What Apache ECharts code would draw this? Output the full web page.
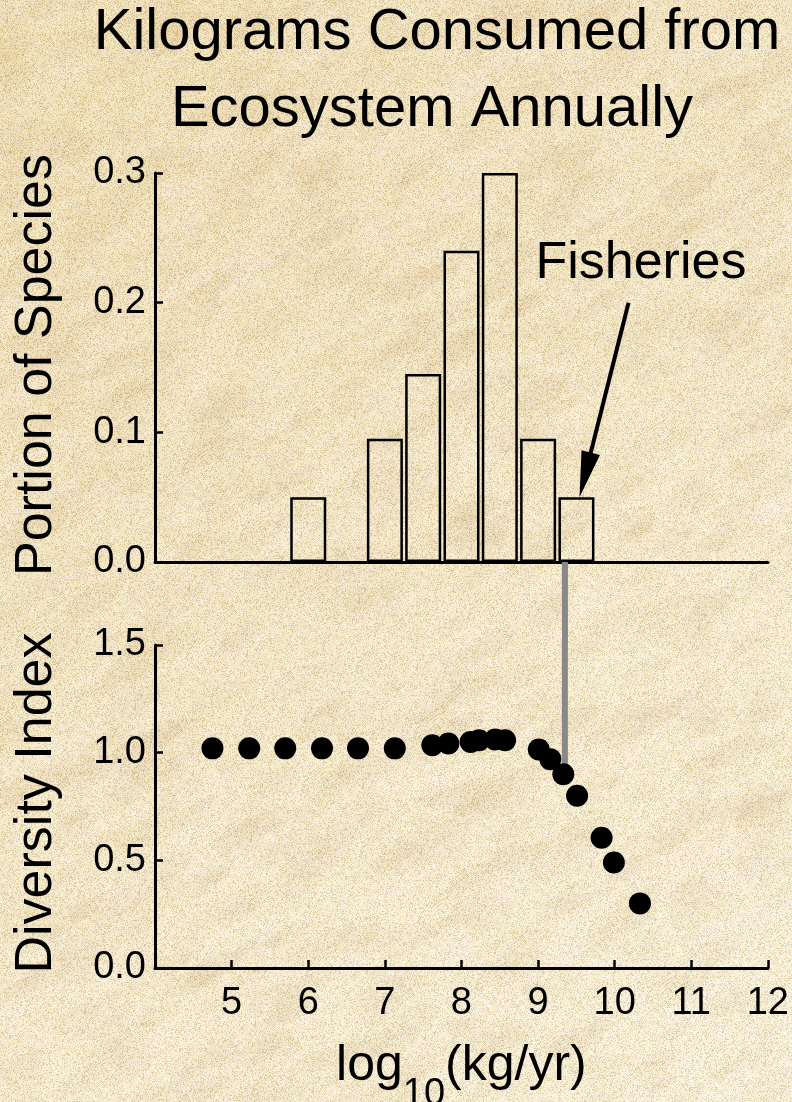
<!DOCTYPE html>
<html>
<head>
<meta charset="utf-8">
<script src="https://cdn.jsdelivr.net/npm/echarts@6/dist/echarts.min.js"></script>
<style>
  html, body { margin: 0; padding: 0; }
  body { width: 792px; height: 1102px; overflow: hidden; background: #f2e7c8; }
  #chart { width: 792px; height: 1102px; }
</style>
</head>
<body>
<div id="chart"></div>
<script>
// Histogram: share of species by annual consumption (log10 kg/yr bin centres)
const binCentres = [6, 7, 7.5, 8, 8.5, 9, 9.5];
const portionOfSpecies = [0.05, 0.095, 0.145, 0.24, 0.30, 0.095, 0.05];

// Diversity index against annual consumption (log10 kg/yr)
const consumptionLog = [4.75, 5.23, 5.70, 6.18, 6.65, 7.13, 7.62, 7.83, 8.12, 8.23, 8.44, 8.57, 9.01, 9.16, 9.33, 9.51, 9.83, 9.99, 10.33];
const diversityIndex = [1.02, 1.02, 1.02, 1.02, 1.02, 1.02, 1.035, 1.043, 1.05, 1.058, 1.061, 1.058, 1.015, 0.97, 0.90, 0.80, 0.605, 0.49, 0.30];

// Fisheries consumption level and the point it marks
const fisheriesLog = 9.35;
const fisheriesDiversity = 0.90;
const fisheriesPortion = 0.05;

const xTicks = [5, 6, 7, 8, 9, 10, 11, 12];
const portionTicks = [0.0, 0.1, 0.2, 0.3];
const diversityTicks = [0.0, 0.5, 1.0, 1.5];

// Parchment texture for the page background (seeded, so it is stable)
(function paintParchment() {
  const W = 792, H = 1102;
  const c = document.createElement('canvas');
  c.width = W; c.height = H;
  const g = c.getContext('2d');
  let s = 12345;
  const rnd = () => { s = (s * 1103515245 + 12345) & 0x7fffffff; return s / 0x7fffffff; };
  const grad = g.createLinearGradient(0, 0, W, H);
  grad.addColorStop(0, '#ecdcb2');
  grad.addColorStop(0.5, '#f1e5c4');
  grad.addColorStop(1, '#f6eed6');
  g.fillStyle = grad;
  g.fillRect(0, 0, W, H);
  for (let i = 0; i < 2600; i++) {
    const x = rnd() * W, y = rnd() * H, r = 3 + rnd() * 16;
    const light = rnd() < 0.55;
    g.fillStyle = light ? 'rgba(252,248,232,0.09)' : 'rgba(210,178,120,0.06)';
    g.beginPath(); g.ellipse(x, y, r * 1.8, r * 0.7, -0.5, 0, Math.PI * 2); g.fill();
  }
  const img = g.getImageData(0, 0, W, H);
  const d = img.data;
  for (let i = 0; i < d.length; i += 4) {
    const n = rnd();
    if (n < 0.16) { d[i] -= 22; d[i + 1] -= 28; d[i + 2] -= 40; }
    else if (n > 0.78) { d[i] = Math.min(255, d[i] + 10); d[i + 1] = Math.min(255, d[i + 1] + 12); d[i + 2] = Math.min(255, d[i + 2] + 22); }
  }
  g.putImageData(img, 0, 0);
  document.body.style.backgroundImage = 'url(' + c.toDataURL() + ')';
})();

const chart = echarts.init(document.getElementById('chart'), null, { renderer: 'canvas' });

const axisLine = { show: true, onZero: false, lineStyle: { color: '#000', width: 3 } };
const innerTick = { show: true, inside: true, length: 8, lineStyle: { color: '#000', width: 2.5 } };
const tickFontFamily = 'Liberation Sans';
const tickFontSize = 38;

const option = {
  backgroundColor: 'transparent',
  animation: false,
  textStyle: { fontFamily: 'Liberation Sans' },
  grid: [
    { left: 155, right: 24, top: 173, height: 389 },
    { left: 155, right: 24, top: 645, height: 323 }
  ],
  xAxis: [
    {
      gridIndex: 0, type: 'value', min: 4, max: 12, interval: 1,
      axisLine: axisLine, axisTick: { show: false }, axisLabel: { show: false }, splitLine: { show: false }
    },
    {
      gridIndex: 1, type: 'value', min: 4, max: 12, interval: 1,
      axisLine: axisLine,
      axisTick: innerTick,
      axisLabel: {
        show: true,
        margin: 17,
        fontFamily: tickFontFamily,
        fontSize: tickFontSize,
        color: '#000',
        formatter: v => (xTicks.indexOf(v) >= 0 ? String(v) : '')
      },
      splitLine: { show: false }
    }
  ],
  yAxis: [
    {
      gridIndex: 0, type: 'value', min: 0, max: 0.3, interval: 0.1,
      axisLine: axisLine,
      axisTick: innerTick,
      axisLabel: {
        show: true,
        margin: 9,
        fontFamily: tickFontFamily,
        fontSize: tickFontSize,
        color: '#000',
        formatter: v => portionTicks.find(t => Math.abs(t - v) < 1e-9).toFixed(1)
      },
      splitLine: { show: false }
    },
    {
      gridIndex: 1, type: 'value', min: 0, max: 1.5, interval: 0.5,
      axisLine: axisLine,
      axisTick: innerTick,
      axisLabel: {
        show: true,
        margin: 9,
        fontFamily: tickFontFamily,
        fontSize: tickFontSize,
        color: '#000',
        formatter: v => diversityTicks.find(t => Math.abs(t - v) < 1e-9).toFixed(1)
      },
      splitLine: { show: false }
    }
  ],
  series: [
    {
      name: 'Portion of Species',
      type: 'bar',
      xAxisIndex: 0, yAxisIndex: 0,
      barWidth: 36,
      data: binCentres.map((x, i) => [x, portionOfSpecies[i]]),
      itemStyle: { color: 'rgba(0,0,0,0)', borderColor: '#000', borderWidth: 2.5 },
      z: 3
    },
    {
      name: 'Diversity Index',
      type: 'scatter',
      xAxisIndex: 1, yAxisIndex: 1,
      symbol: 'circle',
      symbolSize: 22,
      data: consumptionLog.map((x, i) => [x, diversityIndex[i]]),
      itemStyle: { color: '#000', opacity: 1 },
      z: 5
    }
  ]
};
chart.setOption(option);

// Annotations placed through the axes' own scales
const top0 = chart.convertToPixel({ gridIndex: 0 }, [fisheriesLog, 0]);
const bot0 = chart.convertToPixel({ gridIndex: 1 }, [fisheriesLog, fisheriesDiversity]);
const tip = chart.convertToPixel({ gridIndex: 0 }, [9.54, fisheriesPortion]);
const tail = chart.convertToPixel({ gridIndex: 0 }, [10.18, 0.2]);
const labelAt = chart.convertToPixel({ gridIndex: 0 }, [8.965, 0.23]);

const dx = tip[0] - tail[0], dy = tip[1] - tail[1];
const len = Math.sqrt(dx * dx + dy * dy);
const ux = dx / len, uy = dy / len;
const headLen = 46, headHalf = 9.5;
const base = [tip[0] - ux * headLen, tip[1] - uy * headLen];
const head = [
  tip,
  [base[0] - uy * headHalf, base[1] + ux * headHalf],
  [base[0] + uy * headHalf, base[1] - ux * headHalf]
];

// x-axis title "log10(kg/yr)" with a subscript, laid out piece by piece
const measure = document.createElement('canvas').getContext('2d');
const mainFont = 50, subFont = 38;
measure.font = mainFont + 'px "Liberation Sans"';
const wLog = measure.measureText('log').width;
const wUnit = measure.measureText('(kg/yr)').width;
measure.font = subFont + 'px "Liberation Sans"';
const wSub = measure.measureText('10').width;
const xNameCentre = (chart.convertToPixel({ gridIndex: 1 }, [4, 0])[0] + chart.convertToPixel({ gridIndex: 1 }, [12, 0])[0]) / 2;
const xNameLeft = xNameCentre - (wLog + wSub + wUnit) / 2;
const xNameBottom = 1095;

chart.setOption({
  graphic: [
    {
      type: 'line', z: 2,
      shape: { x1: top0[0], y1: top0[1], x2: bot0[0], y2: bot0[1] },
      style: { stroke: '#898989', lineWidth: 6 }
    },
    {
      type: 'line', z: 10,
      shape: { x1: tail[0], y1: tail[1], x2: base[0] + ux * 4, y2: base[1] + uy * 4 },
      style: { stroke: '#000', lineWidth: 4 }
    },
    {
      type: 'polygon', z: 10,
      shape: { points: head },
      style: { fill: '#000' }
    },
    {
      type: 'text', z: 10, x: labelAt[0], y: labelAt[1],
      style: {
        text: 'Fisheries', fill: '#000', align: 'left', verticalAlign: 'middle',
        fontFamily: 'Liberation Sans', fontSize: 52
      }
    },
    {
      type: 'text', z: 10, x: 437, y: 33,
      style: {
        text: 'Kilograms Consumed from', fill: '#000', align: 'center', verticalAlign: 'middle',
        fontFamily: 'Liberation Sans', fontSize: 58
      }
    },
    {
      type: 'text', z: 10, x: 432, y: 110,
      style: {
        text: 'Ecosystem Annually', fill: '#000', align: 'center', verticalAlign: 'middle',
        fontFamily: 'Liberation Sans', fontSize: 58
      }
    },
    {
      type: 'text', z: 10, x: 37, y: 365, rotation: Math.PI / 2,
      style: {
        text: 'Portion of Species', fill: '#000', align: 'center', verticalAlign: 'middle',
        fontFamily: 'Liberation Sans', fontSize: 52
      }
    },
    {
      type: 'text', z: 10, x: 37, y: 803, rotation: Math.PI / 2,
      style: {
        text: 'Diversity Index', fill: '#000', align: 'center', verticalAlign: 'middle',
        fontFamily: 'Liberation Sans', fontSize: 52
      }
    },
    {
      type: 'text', z: 10, x: xNameLeft, y: xNameBottom,
      style: {
        text: 'log', fill: '#000', align: 'left', verticalAlign: 'bottom',
        fontFamily: 'Liberation Sans', fontSize: mainFont, lineHeight: mainFont * 1.15
      }
    },
    {
      type: 'text', z: 10, x: xNameLeft + wLog, y: xNameBottom + 21,
      style: {
        text: '10', fill: '#000', align: 'left', verticalAlign: 'bottom',
        fontFamily: 'Liberation Sans', fontSize: subFont, lineHeight: subFont * 1.15
      }
    },
    {
      type: 'text', z: 10, x: xNameLeft + wLog + wSub, y: xNameBottom,
      style: {
        text: '(kg/yr)', fill: '#000', align: 'left', verticalAlign: 'bottom',
        fontFamily: 'Liberation Sans', fontSize: mainFont, lineHeight: mainFont * 1.15
      }
    }
  ]
});
</script>
</body>
</html>
